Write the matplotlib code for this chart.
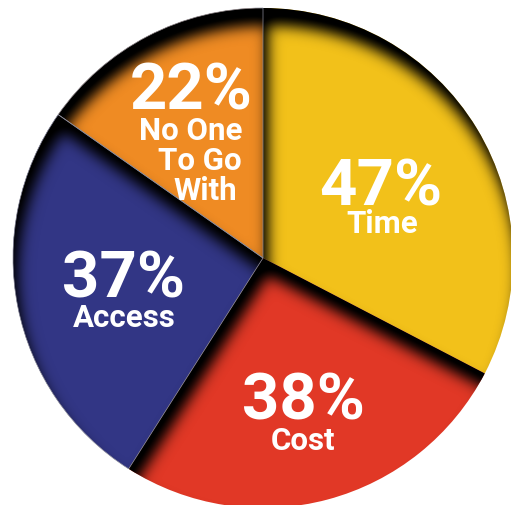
import numpy as np
import matplotlib
matplotlib.use("Agg")
import matplotlib.pyplot as plt
from matplotlib.patches import Wedge

# ---- data ----
categories = ["Time", "Cost", "Access", "No One\nTo Go\nWith"]
values = [47, 38, 37, 22]
pct_labels = ["47%", "38%", "37%", "22%"]
colors = ["#F2C11A", "#E13826", "#323685", "#EF8B23"]

# ---- figure ----
W_PX, H_PX = 511, 505
CX, CY, RPX = 263, 258, 250  # pixel centre / radius of the pie
fig = plt.figure(figsize=(W_PX / 100, H_PX / 100), dpi=100)
ax = fig.add_axes([0, 0, 1, 1])

wedges, _ = ax.pie(values, colors=colors, startangle=90, counterclock=False,
                   radius=1, center=(0, 0), wedgeprops=dict(linewidth=0))

x0, x1 = -CX / RPX, (W_PX - CX) / RPX
y0, y1 = -(H_PX - CY) / RPX, CY / RPX
ax.set_aspect('auto')
ax.set_xlim(x0, x1)
ax.set_ylim(y0, y1)
ax.axis('off')

# ---- inner shadows (clipped to each wedge) ----
SS = 2
sig_px = 7.0
off_px = 18.0
off_ang = np.deg2rad(-74)
pad = int(5 * sig_px * SS)
nx, ny = W_PX * SS, H_PX * SS
dx = 1.0 / (RPX * SS)
xs = x0 + (np.arange(-pad, nx + pad) + 0.5) * dx
ys = y1 - (np.arange(-pad, ny + pad) + 0.5) * dx
X, Y = np.meshgrid(xs, ys)
ox = off_px / RPX * np.cos(off_ang)
oy = off_px / RPX * np.sin(off_ang)

ks = sig_px * SS
kx = np.arange(-int(4 * ks), int(4 * ks) + 1)
kern = np.exp(-0.5 * (kx / ks) ** 2)
kern /= kern.sum()


def blur(a):
    a = np.apply_along_axis(lambda r: np.convolve(r, kern, mode='same'), 1, a)
    a = np.apply_along_axis(lambda c: np.convolve(c, kern, mode='same'), 0, a)
    return a


for w in wedges:
    t1, t2 = w.theta1, w.theta2
    Xs, Ys = X - ox, Y - oy
    R = np.hypot(Xs, Ys)
    ang = np.degrees(np.arctan2(Ys, Xs))
    inside = (R <= 1.0) & (((ang - t1) % 360) <= (t2 - t1))
    outside = 1.0 - inside.astype(float)
    sh = blur(outside)[pad:pad + ny, pad:pad + nx]
    alpha = np.clip(sh * 1.1, 0, 1)
    img = np.zeros((ny, nx, 4))
    img[..., 3] = alpha
    im = ax.imshow(img, extent=(x0, x1, y0, y1), origin='upper',
                   interpolation='bilinear', zorder=2, aspect='auto')
    im.set_clip_path(w)

# thin grey seams along the blue and orange slices
for w in wedges[2:]:
    ax.add_patch(Wedge(w.center, w.r, w.theta1, w.theta2, fill=False,
                       edgecolor='#8c8c9a', linewidth=0.5, zorder=3))

ax.set_xlim(x0, x1)
ax.set_ylim(y0, y1)

# ---- labels ----
def P(px, py):
    return (px - CX) / RPX, (CY - py) / RPX

FONT = 'Roboto'
big = 47
small = 22.5
pct_pos = [(381, 205), (303, 420), (123, 297), (191, 110)]
lab_pos = [[(382, 233)], [(303, 450)], [(124, 327)],
           [(191, 140), (200, 170), (205, 200)]]
for pct, (px, py) in zip(pct_labels, pct_pos):
    ax.text(*P(px, py), pct, ha='center', va='baseline', color='white',
            fontsize=big, fontweight='bold', family=FONT, zorder=5)
for cat, poss in zip(categories, lab_pos):
    for line, (px, py) in zip(cat.split("\n"), poss):
        ax.text(*P(px, py), line, ha='center', va='baseline', color='white',
                fontsize=small, fontweight='bold', family=FONT, zorder=5)

fig.savefig("out.png", dpi=100)
